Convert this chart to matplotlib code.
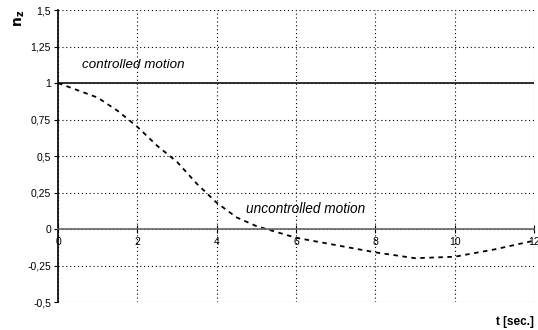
import matplotlib.pyplot as plt
from matplotlib.ticker import FuncFormatter

# time axis and normal load factor for both cases
t = [0, 0.5, 1, 1.5, 2, 2.5, 3, 3.5, 4, 4.5, 5, 5.5, 6, 7, 8, 9, 10, 11, 12]
nz_uncontrolled = [1.0, 0.95, 0.9, 0.81, 0.70, 0.57, 0.46, 0.31, 0.18, 0.08,
                   0.02, -0.02, -0.06, -0.11, -0.16, -0.20, -0.19, -0.14, -0.08]
t_controlled = [0, 12]
nz_controlled = [1, 1]

x_ticks = [0, 2, 4, 6, 8, 10, 12]
y_ticks = [-0.5, -0.25, 0, 0.25, 0.5, 0.75, 1, 1.25, 1.5]

plt.rcParams['font.family'] = ['Liberation Sans', 'DejaVu Sans']

fig = plt.figure(figsize=(5.38, 3.30), dpi=100)
ax = fig.add_axes([58 / 538, 28 / 330, 476 / 538, 292 / 330])

ax.plot(t_controlled, nz_controlled, color='#222222', lw=1.3)
ax.plot(t, nz_uncontrolled, color='black', lw=1.3, ls=(0, (2.5, 2.5)))

ax.set_xlim(0, 12)
ax.set_ylim(-0.5, 1.5)
ax.set_xticks(x_ticks)
ax.set_yticks(y_ticks)

def comma(v, pos):
    s = ('%g' % v).replace('.', ',')
    return s

ax.yaxis.set_major_formatter(FuncFormatter(comma))
ax.grid(True, color='black', ls=(0, (1, 2.5)), lw=0.8)

for side in ['top', 'right']:
    ax.spines[side].set_visible(False)
ax.spines['bottom'].set_position(('data', 0))
ax.spines['bottom'].set_color('#666666')
ax.spines['bottom'].set_linewidth(1.2)
ax.spines['left'].set_linewidth(1.2)

ax.tick_params(axis='y', length=3, width=0.8, labelsize=7.5, pad=2)
ax.tick_params(axis='x', direction='inout', length=6, width=0.8,
               labelsize=7.5, pad=3)

ax.text(0.6, 1.10, 'controlled motion', style='italic', fontsize=9.6)
ax.text(4.75, 0.11, 'uncontrolled motion', style='italic', fontsize=9.8)

fig.text(20 / 538, 1 - 18 / 330, r'$\mathbf{n_z}$', rotation=90, fontsize=10,
         ha='center', va='center')
fig.text(515 / 538, 1 - 322 / 330, 't [sec.]', fontweight='bold', fontsize=8.5,
         ha='center', va='center')

fig.savefig('out.png', dpi=100)
